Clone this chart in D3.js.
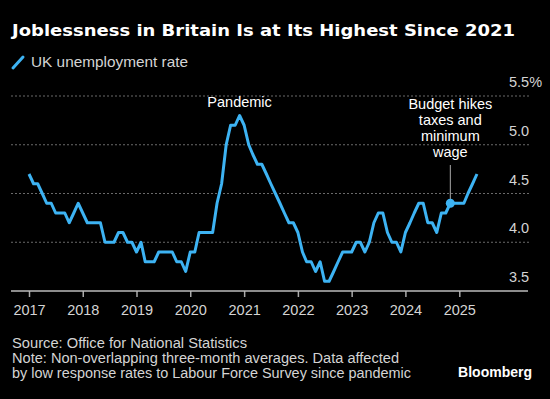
<!DOCTYPE html>
<html>
<head>
<meta charset="utf-8">
<script src="https://cdn.jsdelivr.net/npm/d3@7"></script>
<style>
  html, body { margin: 0; padding: 0; background: #000; }
  svg { display: block; font-family: "Liberation Sans", Arial, sans-serif; }
</style>
</head>
<body>
<svg id="chart" width="550" height="399"></svg>
<script>
// UK unemployment rate, monthly (rolling three-month), Jan 2017 - May 2025
const rate2017 = [4.7, 4.6, 4.6, 4.5, 4.4, 4.4, 4.3, 4.3, 4.3, 4.2, 4.3, 4.4];
const rate2018 = [4.3, 4.2, 4.2, 4.2, 4.2, 4.0, 4.0, 4.0, 4.1, 4.1, 4.0, 4.0];
const rate2019 = [3.9, 4.0, 3.8, 3.8, 3.8, 3.9, 3.9, 3.9, 3.9, 3.8, 3.8, 3.7];
const rate2020 = [3.9, 3.9, 4.1, 4.1, 4.1, 4.1, 4.4, 4.6, 5.0, 5.2, 5.2, 5.3];
const rate2021 = [5.2, 5.0, 4.9, 4.8, 4.8, 4.7, 4.6, 4.5, 4.4, 4.3, 4.2, 4.2];
const rate2022 = [4.1, 3.9, 3.8, 3.8, 3.7, 3.8, 3.6, 3.6, 3.7, 3.8, 3.9, 3.9];
const rate2023 = [3.9, 4.0, 4.0, 3.9, 4.0, 4.2, 4.3, 4.3, 4.1, 4.0, 4.0, 3.9];
const rate2024 = [4.1, 4.2, 4.3, 4.4, 4.4, 4.2, 4.2, 4.1, 4.3, 4.3, 4.4, 4.4];
const rate2025 = [4.4, 4.4, 4.5, 4.6, 4.7];

const yTicks = [3.5, 4.0, 4.5, 5.0, 5.5];
const xTickYears = [2017, 2018, 2019, 2020, 2021, 2022, 2023, 2024, 2025];

const budgetDate = new Date(2024, 10, 1);
const budgetLabel = ["Budget hikes", "taxes and", "minimum", "wage"];
const pandemicDate = new Date(2020, 11, 1);

const titleText = "Joblessness in Britain Is at Its Highest Since 2021";
const legendText = "UK unemployment rate";
const footerLines = [
  "Source: Office for National Statistics",
  "Note: Non-overlapping three-month averages. Data affected",
  "by low response rates to Labour Force Survey since pandemic"
];

const rates = [].concat(rate2017, rate2018, rate2019, rate2020, rate2021,
  rate2022, rate2023, rate2024, rate2025);
const data = rates.map((v, i) => ({ date: new Date(2017, i, 1), value: v }));

const svg = d3.select("#chart");
const blue = "#3db3f3";
const textGrey = "#d4d4d4";

// squeeze or stretch a text node to a width
function fit(sel, w) {
  sel.attr("textLength", w).attr("lengthAdjust", "spacingAndGlyphs");
}

// scales
const x = d3.scaleTime()
  .domain([new Date(2017, 0, 1), new Date(2025, 0, 1)])
  .range([29, 459.3]);
const y = d3.scaleLinear().domain([3.5, 5.5]).range([291, 96]);

// title
svg.append("text")
  .attr("x", 12).attr("y", 36)
  .attr("fill", "#fff")
  .attr("font-family", "DejaVu Sans, sans-serif")
  .attr("font-weight", "bold")
  .attr("font-size", 16)
  .text(titleText)
  .call(fit, 503);

// legend
svg.append("line")
  .attr("x1", 13).attr("y1", 68).attr("x2", 23).attr("y2", 57)
  .attr("stroke", blue).attr("stroke-width", 3).attr("stroke-linecap", "round");
svg.append("text")
  .attr("x", 31).attr("y", 67)
  .attr("fill", textGrey)
  .attr("font-size", 14.5)
  .text(legendText)
  .call(fit, 157);

// dotted grid lines
svg.append("g")
  .selectAll("line")
  .data(yTicks.filter(d => d > 3.5))
  .join("line")
  .attr("x1", 11).attr("x2", 530)
  .attr("y1", d => y(d)).attr("y2", d => y(d))
  .attr("stroke", "#6a6a6a")
  .attr("stroke-width", 1.2)
  .attr("stroke-dasharray", "2,2");

// right-hand value labels, sitting above their grid line
svg.append("g")
  .selectAll("text")
  .data(yTicks)
  .join("text")
  .attr("x", 509)
  .attr("y", d => y(d) - 9)
  .attr("fill", textGrey)
  .attr("font-size", 14.5)
  .text(d => d === 5.5 ? d.toFixed(1) + "%" : d.toFixed(1));

// x axis
const xAxis = d3.axisBottom(x)
  .tickValues(xTickYears.map(yr => new Date(yr, 0, 1)))
  .tickFormat(d3.timeFormat("%Y"))
  .tickSize(6)
  .tickPadding(8);

svg.append("g")
  .attr("transform", "translate(0,291)")
  .call(xAxis)
  .call(g => g.select(".domain").remove())
  .call(g => g.selectAll(".tick line").attr("stroke", "#aaa").attr("stroke-width", 1.5))
  .call(g => g.selectAll(".tick text")
    .attr("fill", textGrey)
    .attr("font-size", 14.5)
    .attr("font-family", "Liberation Sans, Arial, sans-serif"));

svg.append("line")
  .attr("x1", 11).attr("x2", 528)
  .attr("y1", 291).attr("y2", 291)
  .attr("stroke", "#bbb").attr("stroke-width", 1.5);

// the series
const line = d3.line()
  .x(d => x(d.date))
  .y(d => y(d.value));

svg.append("path")
  .datum(data)
  .attr("fill", "none")
  .attr("stroke", blue)
  .attr("stroke-width", 3)
  .attr("stroke-linejoin", "round")
  .attr("d", line);

// pandemic note
svg.append("text")
  .attr("x", x(pandemicDate)).attr("y", 107)
  .attr("text-anchor", "middle")
  .attr("fill", "#fff")
  .attr("font-size", 14.5)
  .text("Pandemic");

// budget note
const budgetPoint = data.find(d => +d.date === +budgetDate);
const bx = x(budgetPoint.date);
svg.append("line")
  .attr("x1", bx).attr("x2", bx)
  .attr("y1", 165).attr("y2", y(budgetPoint.value))
  .attr("stroke", "#aaa").attr("stroke-width", 1);
svg.append("circle")
  .attr("cx", bx).attr("cy", y(budgetPoint.value))
  .attr("r", 4.5)
  .attr("fill", blue);
svg.append("text")
  .attr("x", bx).attr("y", 109)
  .attr("text-anchor", "middle")
  .attr("fill", "#fff")
  .attr("font-size", 14.5)
  .selectAll("tspan")
  .data(budgetLabel)
  .join("tspan")
  .attr("x", bx)
  .attr("dy", (d, i) => i === 0 ? 0 : 16)
  .text(d => d);

// footer
svg.append("g")
  .selectAll("text")
  .data(footerLines)
  .join("text")
  .attr("x", 12)
  .attr("y", (d, i) => 348 + i * 15)
  .attr("fill", textGrey)
  .attr("font-size", 14)
  .text(d => d)
  .each(function (d, i) {
    d3.select(this).call(fit, [235, 387, 399][i]);
  });

svg.append("text")
  .attr("x", 532).attr("y", 377)
  .attr("text-anchor", "end")
  .attr("fill", "#fff")
  .attr("font-weight", "bold")
  .attr("font-size", 14)
  .text("Bloomberg");
</script>
</body>
</html>
